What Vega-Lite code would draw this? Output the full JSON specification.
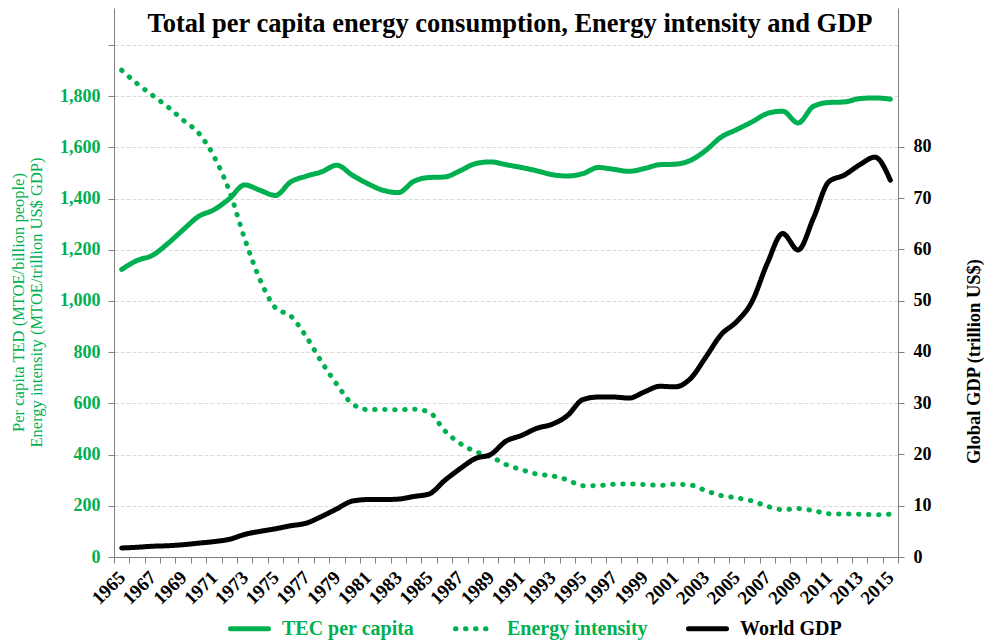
{
  "$schema": "https://vega.github.io/schema/vega-lite/v6.json",
  "width": 784,
  "height": 549,
  "autosize": {"type": "none"},
  "padding": {"left": 114, "top": 8, "right": 87, "bottom": 86},
  "background": "white",
  "title": {"text": "Total per capita energy consumption, Energy intensity and GDP", "font": "Liberation Serif", "fontSize": 26.5, "fontWeight": "bold", "color": "black", "anchor": "middle", "frame": "group", "offset": -29, "dx": 4},
  "config": {
    "view": {"stroke": null},
    "axis": {"domainColor": "#808080", "tickColor": "#808080", "gridColor": "#d9d9d9", "gridDash": [4, 2]}
  },
  "data": {"values": [
    {"year":1965,"series":"TEC per capita","value":1123},{"year":1966,"series":"TEC per capita","value":1158},{"year":1967,"series":"TEC per capita","value":1178},{"year":1968,"series":"TEC per capita","value":1224},{"year":1969,"series":"TEC per capita","value":1278},{"year":1970,"series":"TEC per capita","value":1330},{"year":1971,"series":"TEC per capita","value":1356},{"year":1972,"series":"TEC per capita","value":1399},{"year":1973,"series":"TEC per capita","value":1453},{"year":1974,"series":"TEC per capita","value":1432},{"year":1975,"series":"TEC per capita","value":1412},{"year":1976,"series":"TEC per capita","value":1465},{"year":1977,"series":"TEC per capita","value":1487},{"year":1978,"series":"TEC per capita","value":1504},{"year":1979,"series":"TEC per capita","value":1530},{"year":1980,"series":"TEC per capita","value":1491},{"year":1981,"series":"TEC per capita","value":1458},{"year":1982,"series":"TEC per capita","value":1432},{"year":1983,"series":"TEC per capita","value":1423},{"year":1984,"series":"TEC per capita","value":1467},{"year":1985,"series":"TEC per capita","value":1482},{"year":1986,"series":"TEC per capita","value":1484},{"year":1987,"series":"TEC per capita","value":1508},{"year":1988,"series":"TEC per capita","value":1536},{"year":1989,"series":"TEC per capita","value":1543},{"year":1990,"series":"TEC per capita","value":1532},{"year":1991,"series":"TEC per capita","value":1521},{"year":1992,"series":"TEC per capita","value":1508},{"year":1993,"series":"TEC per capita","value":1493},{"year":1994,"series":"TEC per capita","value":1488},{"year":1995,"series":"TEC per capita","value":1497},{"year":1996,"series":"TEC per capita","value":1521},{"year":1997,"series":"TEC per capita","value":1514},{"year":1998,"series":"TEC per capita","value":1506},{"year":1999,"series":"TEC per capita","value":1517},{"year":2000,"series":"TEC per capita","value":1532},{"year":2001,"series":"TEC per capita","value":1534},{"year":2002,"series":"TEC per capita","value":1549},{"year":2003,"series":"TEC per capita","value":1588},{"year":2004,"series":"TEC per capita","value":1640},{"year":2005,"series":"TEC per capita","value":1669},{"year":2006,"series":"TEC per capita","value":1699},{"year":2007,"series":"TEC per capita","value":1732},{"year":2008,"series":"TEC per capita","value":1741},{"year":2009,"series":"TEC per capita","value":1695},{"year":2010,"series":"TEC per capita","value":1760},{"year":2011,"series":"TEC per capita","value":1775},{"year":2012,"series":"TEC per capita","value":1777},{"year":2013,"series":"TEC per capita","value":1790},{"year":2014,"series":"TEC per capita","value":1793},{"year":2015,"series":"TEC per capita","value":1788},
    {"year":1965,"series":"Energy intensity","value":1901},{"year":1966,"series":"Energy intensity","value":1849},{"year":1967,"series":"Energy intensity","value":1803},{"year":1968,"series":"Energy intensity","value":1758},{"year":1969,"series":"Energy intensity","value":1706},{"year":1970,"series":"Energy intensity","value":1656},{"year":1971,"series":"Energy intensity","value":1565},{"year":1972,"series":"Energy intensity","value":1430},{"year":1973,"series":"Energy intensity","value":1243},{"year":1974,"series":"Energy intensity","value":1083},{"year":1975,"series":"Energy intensity","value":973},{"year":1976,"series":"Energy intensity","value":941},{"year":1977,"series":"Energy intensity","value":861},{"year":1978,"series":"Energy intensity","value":762},{"year":1979,"series":"Energy intensity","value":674},{"year":1980,"series":"Energy intensity","value":598},{"year":1981,"series":"Energy intensity","value":576},{"year":1982,"series":"Energy intensity","value":576},{"year":1983,"series":"Energy intensity","value":575},{"year":1984,"series":"Energy intensity","value":577},{"year":1985,"series":"Energy intensity","value":566},{"year":1986,"series":"Energy intensity","value":494},{"year":1987,"series":"Energy intensity","value":444},{"year":1988,"series":"Energy intensity","value":412},{"year":1989,"series":"Energy intensity","value":392},{"year":1990,"series":"Energy intensity","value":361},{"year":1991,"series":"Energy intensity","value":341},{"year":1992,"series":"Energy intensity","value":324},{"year":1993,"series":"Energy intensity","value":317},{"year":1994,"series":"Energy intensity","value":301},{"year":1995,"series":"Energy intensity","value":278},{"year":1996,"series":"Energy intensity","value":279},{"year":1997,"series":"Energy intensity","value":284},{"year":1998,"series":"Energy intensity","value":285},{"year":1999,"series":"Energy intensity","value":283},{"year":2000,"series":"Energy intensity","value":280},{"year":2001,"series":"Energy intensity","value":284},{"year":2002,"series":"Energy intensity","value":281},{"year":2003,"series":"Energy intensity","value":259},{"year":2004,"series":"Energy intensity","value":240},{"year":2005,"series":"Energy intensity","value":231},{"year":2006,"series":"Energy intensity","value":219},{"year":2007,"series":"Energy intensity","value":198},{"year":2008,"series":"Energy intensity","value":185},{"year":2009,"series":"Energy intensity","value":189},{"year":2010,"series":"Energy intensity","value":181},{"year":2011,"series":"Energy intensity","value":169},{"year":2012,"series":"Energy intensity","value":168},{"year":2013,"series":"Energy intensity","value":167},{"year":2014,"series":"Energy intensity","value":165},{"year":2015,"series":"Energy intensity","value":167},
    {"year":1965,"series":"World GDP","value":1.76},{"year":1966,"series":"World GDP","value":1.9},{"year":1967,"series":"World GDP","value":2.1},{"year":1968,"series":"World GDP","value":2.2},{"year":1969,"series":"World GDP","value":2.4},{"year":1970,"series":"World GDP","value":2.7},{"year":1971,"series":"World GDP","value":3.0},{"year":1972,"series":"World GDP","value":3.45},{"year":1973,"series":"World GDP","value":4.4},{"year":1974,"series":"World GDP","value":5.0},{"year":1975,"series":"World GDP","value":5.5},{"year":1976,"series":"World GDP","value":6.1},{"year":1977,"series":"World GDP","value":6.6},{"year":1978,"series":"World GDP","value":7.9},{"year":1979,"series":"World GDP","value":9.4},{"year":1980,"series":"World GDP","value":10.9},{"year":1981,"series":"World GDP","value":11.2},{"year":1982,"series":"World GDP","value":11.2},{"year":1983,"series":"World GDP","value":11.3},{"year":1984,"series":"World GDP","value":11.8},{"year":1985,"series":"World GDP","value":12.3},{"year":1986,"series":"World GDP","value":14.9},{"year":1987,"series":"World GDP","value":17.2},{"year":1988,"series":"World GDP","value":19.2},{"year":1989,"series":"World GDP","value":20.0},{"year":1990,"series":"World GDP","value":22.6},{"year":1991,"series":"World GDP","value":23.7},{"year":1992,"series":"World GDP","value":25.1},{"year":1993,"series":"World GDP","value":25.9},{"year":1994,"series":"World GDP","value":27.6},{"year":1995,"series":"World GDP","value":30.7},{"year":1996,"series":"World GDP","value":31.2},{"year":1997,"series":"World GDP","value":31.2},{"year":1998,"series":"World GDP","value":31.0},{"year":1999,"series":"World GDP","value":32.2},{"year":2000,"series":"World GDP","value":33.3},{"year":2001,"series":"World GDP","value":33.2},{"year":2002,"series":"World GDP","value":34.8},{"year":2003,"series":"World GDP","value":39.0},{"year":2004,"series":"World GDP","value":43.4},{"year":2005,"series":"World GDP","value":45.9},{"year":2006,"series":"World GDP","value":49.8},{"year":2007,"series":"World GDP","value":57.3},{"year":2008,"series":"World GDP","value":63.1},{"year":2009,"series":"World GDP","value":59.9},{"year":2010,"series":"World GDP","value":66.1},{"year":2011,"series":"World GDP","value":73.2},{"year":2012,"series":"World GDP","value":74.5},{"year":2013,"series":"World GDP","value":76.5},{"year":2014,"series":"World GDP","value":78.0},{"year":2015,"series":"World GDP","value":73.5}
  ]},
  "layer": [
    {
      "transform": [{"filter": "datum.series != 'World GDP'"}],
      "mark": {"type": "line", "strokeWidth": 5, "strokeCap": "round", "strokeJoin": "round", "interpolate": "monotone"},
      "encoding": {
        "x": {"field": "year", "type": "quantitative",
          "scale": {"domain": [1964.5, 2015.5], "nice": false, "zero": false},
          "axis": {"orient": "bottom", "values": [1964.5,1965.5,1966.5,1967.5,1968.5,1969.5,1970.5,1971.5,1972.5,1973.5,1974.5,1975.5,1976.5,1977.5,1978.5,1979.5,1980.5,1981.5,1982.5,1983.5,1984.5,1985.5,1986.5,1987.5,1988.5,1989.5,1990.5,1991.5,1992.5,1993.5,1994.5,1995.5,1996.5,1997.5,1998.5,1999.5,2000.5,2001.5,2002.5,2003.5,2004.5,2005.5,2006.5,2007.5,2008.5,2009.5,2010.5,2011.5,2012.5,2013.5,2014.5,2015.5],
            "labels": false, "ticks": true, "tickSize": 6, "grid": false, "title": null, "domain": true}},
        "y": {"field": "value", "type": "quantitative",
          "scale": {"domain": [0, 2144], "nice": false, "zero": true},
          "axis": {"orient": "left", "values": [0,200,400,600,800,1000,1200,1400,1600,1800,2000],
            "labelExpr": "datum.value >= 2000 ? '' : format(datum.value, ',')",
            "grid": true, "tickSize": 6, "labelColor": "#00b050", "labelFont": "Liberation Serif", "labelFontWeight": "bold", "labelFontSize": 18, "labelPadding": 8,
            "title": ["Per capita TED (MTOE/billion people)", "Energy intensity (MTOE/trillion US$ GDP)"],
            "titleColor": "#00b050", "titleFont": "Liberation Serif", "titleFontWeight": "normal", "titleFontSize": 16.5, "titleLineHeight": 18,
            "titleAngle": -90, "titleX": -96, "titleY": 294, "titleAlign": "center", "titleBaseline": "middle"}},
        "color": {"field": "series", "type": "nominal",
          "scale": {"domain": ["TEC per capita", "Energy intensity", "World GDP"], "range": ["#00b050", "#00b050", "#000000"]},
          "legend": {"title": null, "orient": "none", "legendX": 114, "legendY": 599, "direction": "horizontal", "symbolType": "stroke", "symbolSize": 1444, "symbolStrokeWidth": 5, "labelFont": "Liberation Serif", "labelFontSize": 20, "labelFontWeight": "bold", "labelOffset": 11, "columnPadding": 30, "labelLimit": 300,
            "encode": {"labels": {"update": {"fill": {"signal": "datum.value === 'World GDP' ? '#000000' : '#00b050'"}}}, "symbols": {"update": {"strokeCap": {"value": "round"}}}}}},
        "strokeDash": {"field": "series", "type": "nominal",
          "scale": {"domain": ["TEC per capita", "Energy intensity", "World GDP"], "range": [[1, 0], [0.5, 9.5], [1, 0]]},
          "legend": {"title": null, "orient": "none", "legendX": 114, "legendY": 599, "direction": "horizontal", "symbolType": "stroke", "symbolSize": 1444, "symbolStrokeWidth": 5, "labelFont": "Liberation Serif", "labelFontSize": 20, "labelFontWeight": "bold", "labelOffset": 11, "columnPadding": 30, "labelLimit": 300,
            "encode": {"labels": {"update": {"fill": {"signal": "datum.value === 'World GDP' ? '#000000' : '#00b050'"}}}, "symbols": {"update": {"strokeCap": {"value": "round"}}}}}}
      }
    },
    {
      "transform": [{"filter": "datum.series == 'World GDP'"}],
      "mark": {"type": "line", "strokeWidth": 5, "strokeCap": "round", "strokeJoin": "round", "interpolate": "monotone"},
      "encoding": {
        "x": {"field": "year", "type": "quantitative",
          "scale": {"domain": [1964.5, 2015.5], "nice": false, "zero": false},
          "axis": {"orient": "bottom", "values": [1965,1967,1969,1971,1973,1975,1977,1979,1981,1983,1985,1987,1989,1991,1993,1995,1997,1999,2001,2003,2005,2007,2009,2011,2013,2015],
            "format": "d", "ticks": false, "domain": false, "grid": false, "title": null,
            "labelAngle": -45, "labelAlign": "right", "labelBaseline": "middle", "labelFont": "Liberation Serif", "labelFontWeight": "bold", "labelFontSize": 19, "labelPadding": 17, "labelColor": "black", "labelOverlap": false, "labelFlush": false}},
        "y": {"field": "value", "type": "quantitative",
          "scale": {"domain": [0, 107.1], "nice": false, "zero": true},
          "axis": {"orient": "right", "values": [0,10,20,30,40,50,60,70,80], "grid": false, "tickSize": 6,
            "labelColor": "black", "labelFont": "Liberation Serif", "labelFontWeight": "bold", "labelFontSize": 18, "labelPadding": 9,
            "title": "Global GDP (trillion US$)", "titleFont": "Liberation Serif", "titleFontWeight": "bold", "titleFontSize": 18.5, "titleColor": "black",
            "titleAngle": -90, "titleX": 75, "titleY": 353, "titleAlign": "center", "titleBaseline": "middle"}},
        "color": {"field": "series", "type": "nominal",
          "scale": {"domain": ["TEC per capita", "Energy intensity", "World GDP"], "range": ["#00b050", "#00b050", "#000000"]},
          "legend": {"title": null, "orient": "none", "legendX": 114, "legendY": 599, "direction": "horizontal", "symbolType": "stroke", "symbolSize": 1444, "symbolStrokeWidth": 5, "labelFont": "Liberation Serif", "labelFontSize": 20, "labelFontWeight": "bold", "labelOffset": 11, "columnPadding": 30, "labelLimit": 300,
            "encode": {"labels": {"update": {"fill": {"signal": "datum.value === 'World GDP' ? '#000000' : '#00b050'"}}}, "symbols": {"update": {"strokeCap": {"value": "round"}}}}}},
        "strokeDash": {"field": "series", "type": "nominal",
          "scale": {"domain": ["TEC per capita", "Energy intensity", "World GDP"], "range": [[1, 0], [0.5, 9.5], [1, 0]]},
          "legend": {"title": null, "orient": "none", "legendX": 114, "legendY": 599, "direction": "horizontal", "symbolType": "stroke", "symbolSize": 1444, "symbolStrokeWidth": 5, "labelFont": "Liberation Serif", "labelFontSize": 20, "labelFontWeight": "bold", "labelOffset": 11, "columnPadding": 30, "labelLimit": 300,
            "encode": {"labels": {"update": {"fill": {"signal": "datum.value === 'World GDP' ? '#000000' : '#00b050'"}}}, "symbols": {"update": {"strokeCap": {"value": "round"}}}}}}
      }
    }
  ],
  "resolve": {"scale": {"y": "independent"}, "axis": {"y": "independent", "x": "independent"}}
}
